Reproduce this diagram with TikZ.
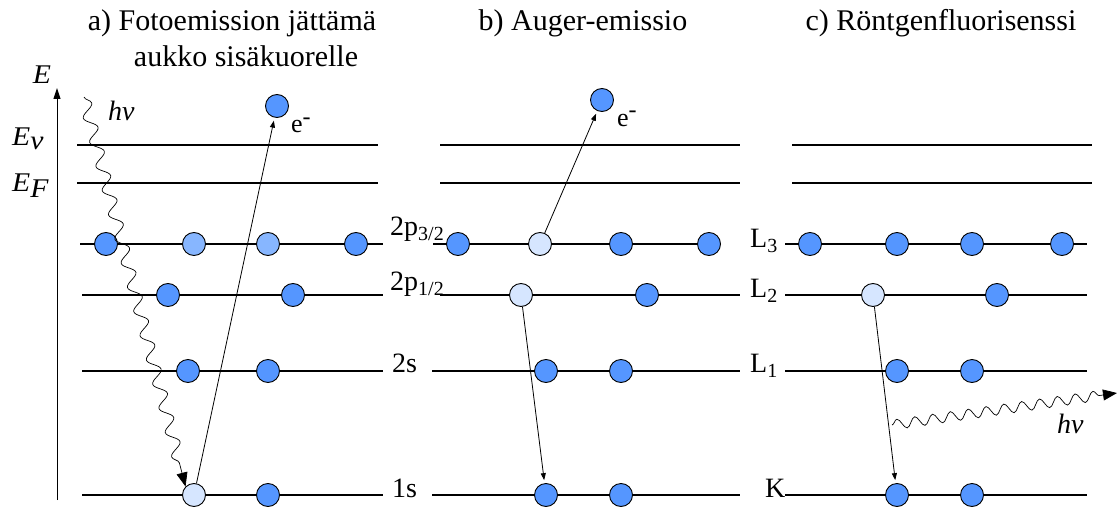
\documentclass[tikz,border=0pt]{standalone}
\usepackage{fontspec}
\setmainfont{Liberation Serif}
\usetikzlibrary{arrows.meta,decorations.pathmorphing}
\definecolor{edark}{RGB}{85,150,255}
\definecolor{elight}{RGB}{135,182,255}
\definecolor{ehole}{RGB}{214,230,255}
\newcommand{\lsub}[1]{\raisebox{-5pt}{\fontsize{20}{20}\selectfont #1}}
\newcommand{\eminus}{e\raisebox{9pt}{\fontsize{24}{24}\selectfont -}}
\newcommand{\wide}[1]{\scalebox{1.1}[1]{#1}}
\tikzset{
  elec/.style={circle,draw,line width=0.9pt,minimum size=23pt,inner sep=0pt,fill=edark},
  level/.style={line width=1.1pt},
  trans/.style={line width=0.8pt,-{Triangle[length=7pt,width=5pt]},shorten >=3pt},
  photon/.style={line width=0.7pt,-{Triangle[length=14pt,width=11pt]},decorate,
    decoration={snake,amplitude=5pt,post length=12pt}},
  title/.style={font=\fontsize{30}{36}\selectfont,anchor=base},
  lab/.style={font=\fontsize{28}{32}\selectfont,anchor=base west,inner sep=0pt},
  elab/.style={lab,font=\fontsize{27}{32}\selectfont\itshape}
}
\begin{document}
\begin{tikzpicture}[x=1pt,y=-1pt]
  \useasboundingbox (0,0) rectangle (1119,508);
  % energy levels of the three panels
  \foreach \xa/\xb/\y in {
     77/378/145, 77/378/183, 80/383/244, 82/383/295, 82/383/371, 82/383/495,
     440/740/145, 440/740/183, 433/720/244, 440/740/295, 432/740/371, 432/740/495,
     792/1092/145, 792/1092/183, 785/1087/244, 785/1087/295, 785/1087/371, 785/1087/495}
    \draw[level] (\xa,\y) -- (\xb,\y);
  % electrons and holes
  \foreach \n/\x/\y/\c in {
     a31/106/244/edark, a32/194/244/elight, a33/268/244/elight, a34/356/244/edark,
     a21/168/295/edark, a22/293/295/edark, a11/188/371/edark, a12/268/371/edark,
     a01/194/495/ehole, a02/268/495/edark, afree/277/106/edark,
     b31/458/244/edark, b32/540/244/ehole, b33/621/244/edark, b34/709/244/edark,
     b21/521/295/ehole, b22/647/295/edark, b11/546/371/edark, b12/621/371/edark,
     b01/546/495/edark, b02/621/495/edark, bfree/602/100/edark,
     c31/810/244/edark, c32/897/244/edark, c33/972/244/edark, c34/1062/244/edark,
     c21/873/295/ehole, c22/997/295/edark, c11/897/371/edark, c12/972/371/edark,
     c01/897/495/edark, c02/972/495/edark}
    \node[elec,fill=\c] (\n) at (\x,\y) {};
  % energy axis
  \coordinate (axisbot) at (57,500);
  \coordinate (axistop) at (57,88);
  \draw[line width=1pt,-{Triangle[length=11pt,width=7pt]}] (axisbot) -- (axistop);
  \node[elab,anchor=base] (elab) at (42,84) {\wide{E}};
  \node[elab] (evlab) at (12,146) {\wide{E}\raisebox{-4pt}{\wide{v}}};
  \node[elab] (eflab) at (12,191) {\wide{E}\raisebox{-6pt}{\wide{F}}};
  % titles
  \node[title] (tita) at (232,31) {a) Fotoemission jättämä};
  \node[title] (titaa) at (246,67) {aukko sisäkuorelle};
  \node[title] (titb) at (583,31) {b) Auger-emissio};
  \node[title] (titc) at (941,31) {c) Röntgenfluorisenssi};
  % level names
  \node[lab] (p32) at (390,235) {2p\lsub{3/2}};
  \node[lab] (p12) at (390,290) {2p\lsub{1/2}};
  \node[lab] (s2) at (392,372) {2s};
  \node[lab] (s1) at (392,497) {1s};
  \node[lab] (l3) at (750,247) {L\lsub{3}};
  \node[lab] (l2) at (750,297) {L\lsub{2}};
  \node[lab] (l1) at (750,372) {L\lsub{1}};
  \node[lab] (kk) at (765,497) {K};
  % emitted electrons
  \node[lab,font=\fontsize{26}{30}\selectfont] (ea) at (291,133) {\eminus};
  \node[lab,font=\fontsize{26}{30}\selectfont] (eb) at (617,127) {\eminus};
  % transitions
  \draw[trans] (a01) -- (afree);
  \draw[trans] (b32) -- (bfree);
  \draw[trans] (b21) -- (b01);
  \draw[trans] (c21) -- (c01);
  % photons
  \coordinate (hvin) at (84,97);
  \draw[photon,decoration={amplitude=6pt,segment length=25pt}] (hvin) -- (a01.north west);
  \node[lab,font=\fontsize{28}{32}\selectfont\itshape] (hva) at (108,121) {hν};
  \coordinate (hvstart) at (892,425);
  \coordinate (hvout) at (1117,393);
  \draw[photon,decoration={segment length=18pt}] (hvstart) -- (hvout);
  \node[lab,font=\fontsize{28}{32}\selectfont\itshape] (hvc) at (1057,433) {hν};
\end{tikzpicture}
\end{document}
